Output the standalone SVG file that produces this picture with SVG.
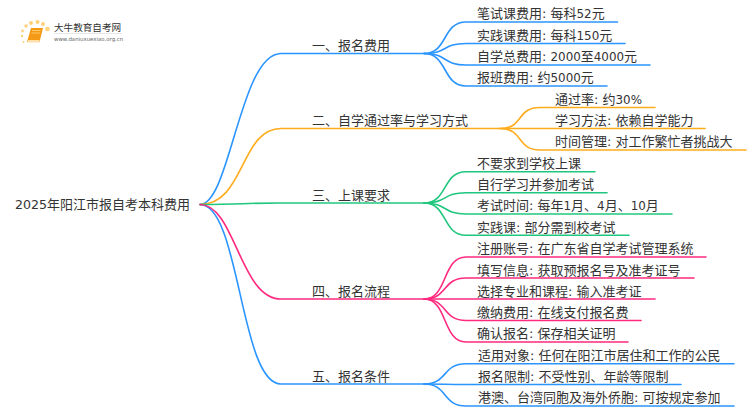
<svg xmlns="http://www.w3.org/2000/svg" width="750" height="410" viewBox="0 0 750 410">
<style>
text{font-family:"DejaVu Sans","Noto Sans CJK SC",sans-serif;font-size:13px;fill:#333}
.d{font-size:11.900px}
.c path{fill:none;stroke-width:1.6;stroke-linecap:round}
.b path{stroke:#2b95ff}.o path{stroke:#ffac1c}.g path{stroke:#1fc77e}.p path{stroke:#ff2a7f}
</style>
<rect width="750" height="410" fill="#fff"/>
<g id="logo">
<g fill="#ffd27a"><circle cx="47.500" cy="29" r="2.300"/><circle cx="43" cy="24" r="2"/><circle cx="37.500" cy="22" r="2"/><circle cx="31" cy="23" r="2"/><circle cx="26" cy="26" r="1.700"/><circle cx="22.500" cy="31" r="1.400"/><circle cx="22" cy="36" r="1.200"/><circle cx="23.500" cy="42" r="1"/></g>
<path d="M31 28h12l-3.500 14h-12.500z" fill="#f59a16"/><path d="M27.500 42.500h11.500l.7-2.500h-11.500z" fill="#ffe0a8"/><path d="M32 30.500h8.500M31.500 33h8.500" stroke="#ffd27a" stroke-width=".8"/>
<text x="54" y="31" style="font-size:9.600px">大牛教育自考网</text>
<path d="M54 33.500h68" stroke="#ddd" stroke-width=".7"/>
<text x="54" y="41" style="font-size:5.400px;fill:#666">www.daniuxuexiao.org.cn</text>
</g>
<g id="connectors" class="c">
<g class="b">
<path d="M200 204.500C230 204.500 240 53.500 281 53.500H424"/>
<path d="M424 53.500C448 53.500 442 22 466 22H617.500"/>
<path d="M424 53.500C448 53.500 442 43.500 466 43.500H625"/>
<path d="M424 53.500C448 53.500 442 65 466 65H650"/>
<path d="M424 53.500C448 53.500 442 86 466 86H607"/>
<path d="M200 204.500C240 204.500 240 384 281 384H424"/>
<path d="M424 384C448 384 442 363.700 466 363.700H734"/>
<path d="M424 384C448 384 442 384.500 466 384.500H681"/>
<path d="M424 384C448 384 442 406 466 406H734"/>
</g>
<g class="o">
<path d="M200 204.500C245 204.500 240 128.500 281 128.500H500"/>
<path d="M500 128.500C524 128.500 516 107.500 540 107.500H655"/>
<path d="M500 128.500C524 128.500 516 128.500 540 128.500H705"/>
<path d="M500 128.500C524 128.500 516 150 540 150H746"/>
</g>
<g class="g">
<path d="M200 204.500C245 204.500 240 203 281 203H424"/>
<path d="M424 203C448 203 442 171.700 466 171.700H595"/>
<path d="M424 203C448 203 442 192.700 466 192.700H607"/>
<path d="M424 203C448 203 442 214 466 214H672"/>
<path d="M424 203C448 203 442 235.300 466 235.300H629"/>
</g>
<g class="p">
<path d="M200 204.500C235 204.500 240 299 281 299H424"/>
<path d="M424 299C448 299 442 257 466 257H706"/>
<path d="M424 299C448 299 442 278 466 278H694"/>
<path d="M424 299C448 299 442 299 466 299H655"/>
<path d="M424 299C448 299 442 320.500 466 320.500H641"/>
<path d="M424 299C448 299 442 342 466 342H628"/>
</g>
</g>
<g id="root"><text x="15" y="209"><tspan style="font-size:12.600px">2025</tspan>年阳江市报自考本科费用</text></g>
<g id="n1"><text x="312" y="50">一、报名费用</text></g>
<g id="n1-1"><text x="477" y="18">笔试课费用: 每科<tspan class="d">52</tspan>元</text></g>
<g id="n1-2"><text x="477" y="39.500">实践课费用: 每科<tspan class="d">150</tspan>元</text></g>
<g id="n1-3"><text x="477" y="61">自学总费用: <tspan class="d">2000</tspan>至<tspan class="d">4000</tspan>元</text></g>
<g id="n1-4"><text x="477" y="82">报班费用: 约<tspan class="d">5000</tspan>元</text></g>
<g id="n2"><text x="312" y="125">二、自学通过率与学习方式</text></g>
<g id="n2-1"><text x="555" y="103.500">通过率: 约<tspan class="d">30%</tspan></text></g>
<g id="n2-2"><text x="555" y="125">学习方法: 依赖自学能力</text></g>
<g id="n2-3"><text x="555" y="146">时间管理: 对工作繁忙者挑战大</text></g>
<g id="n3"><text x="312" y="199.500">三、上课要求</text></g>
<g id="n3-1"><text x="477" y="168">不要求到学校上课</text></g>
<g id="n3-2"><text x="477" y="189">自行学习并参加考试</text></g>
<g id="n3-3"><text x="477" y="210">考试时间: 每年<tspan class="d">1</tspan>月、<tspan class="d">4</tspan>月、<tspan class="d">10</tspan>月</text></g>
<g id="n3-4"><text x="477" y="232">实践课: 部分需到校考试</text></g>
<g id="n4"><text x="312" y="295.500">四、报名流程</text></g>
<g id="n4-1"><text x="477" y="253">注册账号: 在广东省自学考试管理系统</text></g>
<g id="n4-2"><text x="477" y="274.500">填写信息: 获取预报名号及准考证号</text></g>
<g id="n4-3"><text x="477" y="295.500">选择专业和课程: 输入准考证</text></g>
<g id="n4-4"><text x="477" y="317">缴纳费用: 在线支付报名费</text></g>
<g id="n4-5"><text x="477" y="338">确认报名: 保存相关证明</text></g>
<g id="n5"><text x="312" y="381">五、报名条件</text></g>
<g id="n5-1"><text x="478" y="359.500">适用对象: 任何在阳江市居住和工作的公民</text></g>
<g id="n5-2"><text x="478" y="381">报名限制: 不受性别、年龄等限制</text></g>
<g id="n5-3"><text x="478" y="402">港澳、台湾同胞及海外侨胞: 可按规定参加</text></g>
</svg>
